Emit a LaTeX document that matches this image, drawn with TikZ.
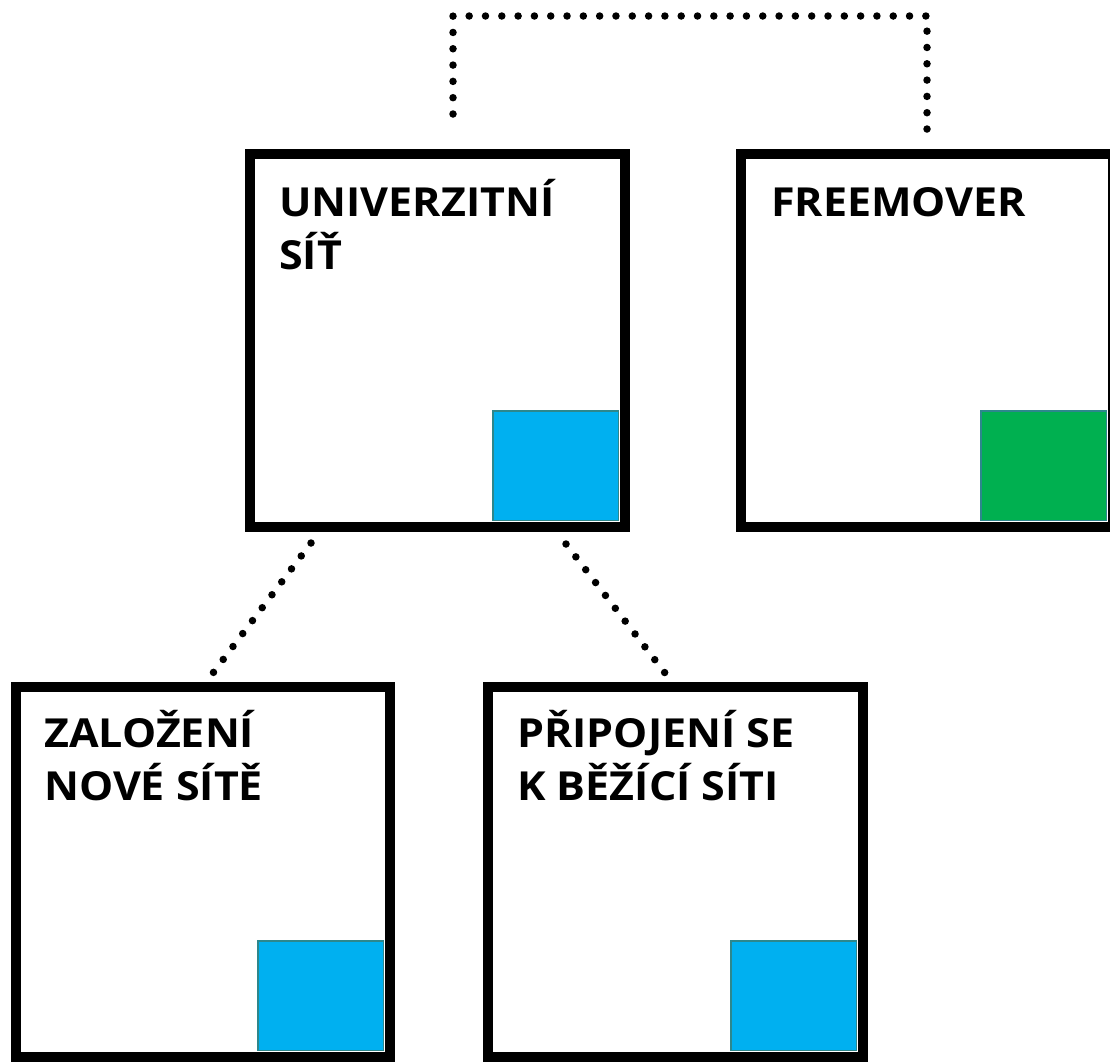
\documentclass[tikz,border=0pt]{standalone}
\usepackage{fontspec}
\setmainfont{Open Sans}
\newfontfamily\lblfont{Open Sans}[FakeStretch=1.075]
\usetikzlibrary{calc}
\definecolor{sqblue}{HTML}{00B0F0}
\definecolor{sqgreen}{HTML}{00B050}
\definecolor{sqedge}{RGB}{45,135,140}
\tikzset{
  bigbox/.style={draw=black, line width=10pt, fill=white, rectangle, inner sep=0pt},
  corner/.style={draw=sqedge, line width=1.3pt, rectangle, inner sep=0pt,
    minimum width=125.7pt, minimum height=109.7pt, anchor=south east},
  dotline/.style={line width=7.5pt, line cap=round, dash pattern=on 0pt off 16.31pt},
  dotdiag/.style={dotline, dash pattern=on 0pt off 16.2pt},
  label/.style={anchor=base west, inner sep=0pt}
}
\newcommand{\boxtext}[1]{\parbox[t]{340pt}{\raggedright\lblfont\fontsize{40}{53}\selectfont\bfseries #1}}
\begin{document}
\begin{tikzpicture}[x=1pt,y=-1pt]
\useasboundingbox (0,0) rectangle (1110,1061);
% boxes
\node[bigbox, minimum width=375pt, minimum height=373pt] (b1) at (437.5,340.5) {};
\node[bigbox, minimum width=372pt, minimum height=373pt] (b2) at (927,340.5) {};
\node[bigbox, minimum width=374pt, minimum height=370pt] (b3) at (203,872) {};
\node[bigbox, minimum width=375pt, minimum height=370pt] (b4) at (675.5,872) {};
% corner squares
\node[corner, fill=sqblue] (s1) at ([xshift=-10.6pt,yshift=10.6pt]b1.south east) {};
\node[corner, fill=sqgreen] (s2) at ([xshift=-10.6pt,yshift=10.6pt]b2.south east) {};
\node[corner, fill=sqblue] (s3) at ([xshift=-10.6pt,yshift=10.6pt]b3.south east) {};
\node[corner, fill=sqblue] (s4) at ([xshift=-10.6pt,yshift=10.6pt]b4.south east) {};
% labels
\node[label] (t1) at (279,216) {\boxtext{UNIVERZITNÍ\\SÍŤ}};
\node[label] (t2) at (771,216) {\boxtext{FREEMOVER}};
\node[label] (t3) at (44,747) {\boxtext{ZALOŽENÍ\\NOVÉ SÍTĚ}};
\node[label] (t4) at (517,747) {\boxtext{PŘIPOJENÍ SE\\K BĚŽÍCÍ SÍTI}};
% dotted connectors
\draw[dotline] ([xshift=15.5pt,yshift=35pt]b1.north) -- ++(0,-98) -| ([yshift=19pt]b2.north);
\draw[dotdiag] ([xshift=-126.5pt,yshift=-11pt]b1.south) -- ([xshift=10pt,yshift=9pt]b3.north);
\draw[dotdiag] ([xshift=128.5pt,yshift=-12pt]b1.south) -- ([xshift=-10.5pt,yshift=9pt]b4.north);
\end{tikzpicture}
\end{document}
